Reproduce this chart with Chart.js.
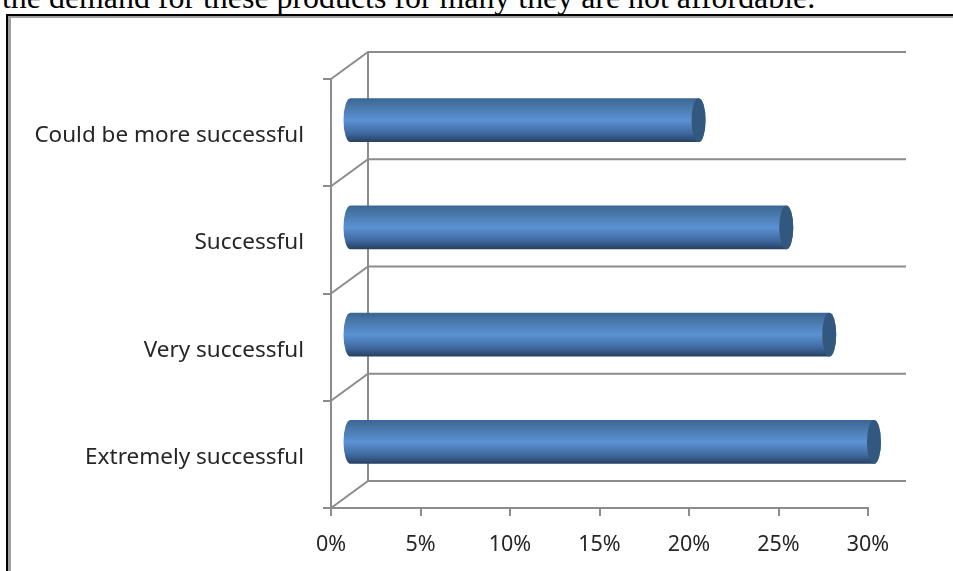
<!DOCTYPE html>
<html>
<head>
<meta charset="utf-8">
<title>Success ratings</title>
<script src="https://cdn.jsdelivr.net/npm/chart.js@4/dist/chart.umd.min.js"></script>
<style>
  html, body { margin: 0; padding: 0; background: #fff; overflow: hidden; }
  #page { position: relative; width: 953px; height: 571px; overflow: hidden; }
  #line { position: absolute; left: 2px; top: -20px; white-space: nowrap;
          font: 31.9px "Liberation Serif", serif; color: #000; }
  #frame { position: absolute; left: 6px; top: 14px; width: 1000px; height: 700px;
           border-left: 2px solid #000; border-top: 2px solid #000; }
  #frame:after { content: ""; position: absolute; left: 0; top: 0; right: 0; bottom: 0;
                 border-left: 3px solid #a0a0a0; border-top: 2px solid #a0a0a0; }
  canvas { position: absolute; left: 0; top: 0; }
</style>
</head>
<body>
<div id="page">
  <div id="line">the demand for these products for many they are not affordable.</div>
  <div id="frame"></div>
  <canvas id="chart" width="953" height="571"></canvas>
</div>
<script>
const categories = ['Could be more successful', 'Successful', 'Very successful', 'Extremely successful'];
const shares = [19.5, 24.4, 26.8, 29.3];
const tickStep = 5;
const tickMax = 30;

// floor depth of the 3D box
const DEPTH_X = 37;
const DEPTH_Y = 27;
const AXIS_COLOR = '#8c8c8c';
const TEXT_COLOR = '#262626';
const FONT = '"Noto Sans", sans-serif';

// back wall and floor lines behind the bars
const boxPlugin = {
    id: 'box3d',
    beforeDatasetsDraw(chart) {
        const { ctx, chartArea: a } = chart;
        ctx.save();
        ctx.strokeStyle = AXIS_COLOR;
        ctx.lineWidth = 2;
        ctx.beginPath();
        // wall edge
        ctx.moveTo(a.left + DEPTH_X, a.top - DEPTH_Y);
        ctx.lineTo(a.left + DEPTH_X, a.bottom - DEPTH_Y);
        // one line per band boundary, going back then across
        const n = categories.length;
        for (let i = 0; i <= n; i++) {
            const py = a.top + (a.bottom - a.top) * i / n;
            ctx.moveTo(a.left, py);
            ctx.lineTo(a.left + DEPTH_X, py - DEPTH_Y);
            ctx.lineTo(a.right + DEPTH_X + 1, py - DEPTH_Y);
        }
        ctx.stroke();
        ctx.restore();
    }
};

// bars are drawn as cylinders lying along the value axis
const cylinderPlugin = {
    id: 'cylinder',
    beforeDatasetDraw(chart, args) {
        const { ctx } = chart;
        const meta = args.meta;
        const shiftX = DEPTH_X / 2;
        const shiftY = DEPTH_Y / 2 - 1;
        meta.data.forEach(bar => {
            const h = bar.height;
            const cy = bar.y - shiftY;
            const top = cy - h / 2;
            const x0 = bar.base + shiftX;
            const x1 = bar.x + shiftX;
            const rx = 7;

            const grad = ctx.createLinearGradient(0, top, 0, top + h);
            grad.addColorStop(0, '#3a6596');
            grad.addColorStop(0.12, '#44719f');
            grad.addColorStop(0.5, '#5b92d4');
            grad.addColorStop(0.8, '#40699f');
            grad.addColorStop(1, '#253f60');

            ctx.save();
            ctx.fillStyle = grad;
            ctx.beginPath();
            ctx.moveTo(x0, top);
            ctx.lineTo(x1, top);
            ctx.ellipse(x1, cy, rx, h / 2, 0, -Math.PI / 2, Math.PI / 2);
            ctx.lineTo(x0, top + h);
            ctx.ellipse(x0, cy, rx, h / 2, 0, Math.PI / 2, Math.PI * 1.5);
            ctx.closePath();
            ctx.fill();

            ctx.fillStyle = '#32587f';
            ctx.beginPath();
            ctx.ellipse(x1, cy, rx, h / 2, 0, 0, Math.PI * 2);
            ctx.fill();
            ctx.restore();
        });
        return false;
    }
};

new Chart(document.getElementById('chart'), {
    type: 'bar',
    data: {
        labels: categories,
        datasets: [{
            data: shares,
            backgroundColor: '#4f81bd',
            barPercentage: 0.41,
            categoryPercentage: 1
        }]
    },
    options: {
        indexAxis: 'y',
        responsive: false,
        animation: false,
        layout: { padding: { top: 79, right: 85, left: 0, bottom: 0 } },
        plugins: { legend: { display: false }, tooltip: { enabled: false } },
        scales: {
            x: {
                min: 0,
                max: tickMax,
                afterFit(scale) { scale.height = 63; },
                border: { color: AXIS_COLOR, width: 2 },
                grid: { drawOnChartArea: false, color: AXIS_COLOR, lineWidth: 2, tickLength: 8 },
                ticks: {
                    stepSize: tickStep,
                    padding: 16,
                    maxRotation: 0,
                    color: TEXT_COLOR,
                    font: { family: FONT, size: 21.5 },
                    callback: v => v + '%'
                }
            },
            y: {
                afterFit(scale) { scale.width = 331; },
                border: { color: AXIS_COLOR, width: 2 },
                grid: { drawOnChartArea: false, offset: true, color: AXIS_COLOR, lineWidth: 2, tickLength: 8 },
                ticks: {
                    padding: 19,
                    autoSkip: false,
                    labelOffset: 3,
                    color: TEXT_COLOR,
                    font: { family: FONT, size: 22.5 }
                }
            }
        }
    },
    plugins: [boxPlugin, cylinderPlugin]
});
</script>
</body>
</html>
